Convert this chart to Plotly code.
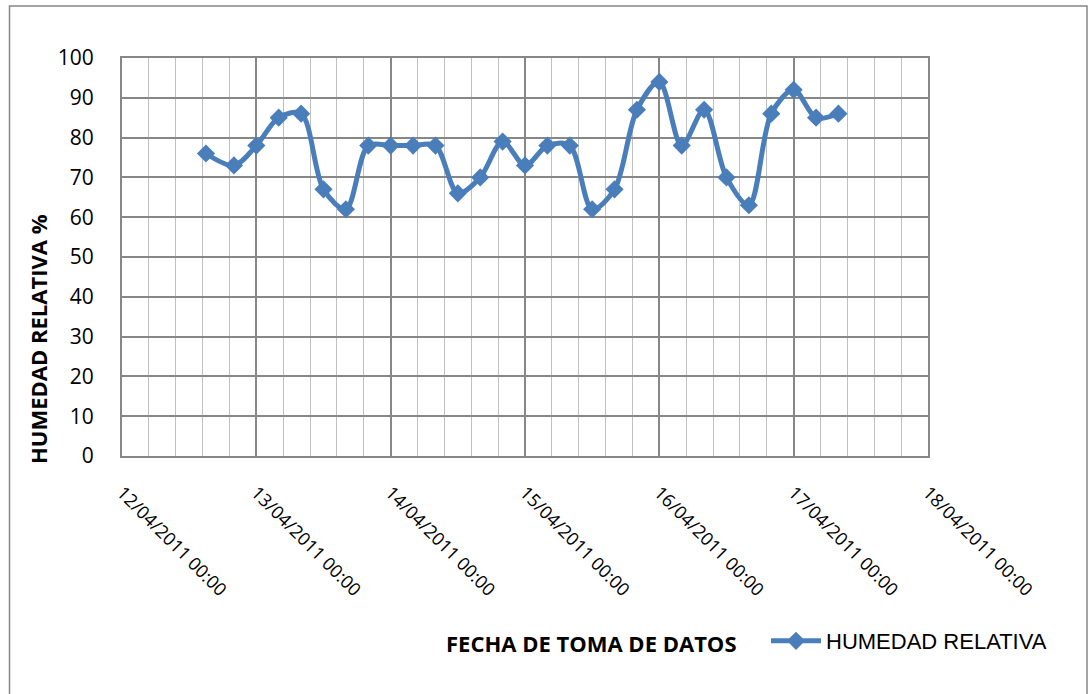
import plotly.graph_objects as go

# Data
fechas = [
    "2011-04-12 15:00", "2011-04-12 20:00",
    "2011-04-13 00:00", "2011-04-13 04:00", "2011-04-13 08:00", "2011-04-13 12:00", "2011-04-13 16:00", "2011-04-13 20:00",
    "2011-04-14 00:00", "2011-04-14 04:00", "2011-04-14 08:00", "2011-04-14 12:00", "2011-04-14 16:00", "2011-04-14 20:00",
    "2011-04-15 00:00", "2011-04-15 04:00", "2011-04-15 08:00", "2011-04-15 12:00", "2011-04-15 16:00", "2011-04-15 20:00",
    "2011-04-16 00:00", "2011-04-16 04:00", "2011-04-16 08:00", "2011-04-16 12:00", "2011-04-16 16:00", "2011-04-16 20:00",
    "2011-04-17 00:00", "2011-04-17 04:00", "2011-04-17 08:00",
]
humedad = [
    76, 73,
    78, 85, 86, 67, 62, 78,
    78, 78, 78, 66, 70, 79,
    73, 78, 78, 62, 67, 87,
    94, 78, 87, 70, 63, 86,
    92, 85, 86,
]
serie_nombre = "HUMEDAD RELATIVA"
titulo_x = "FECHA DE TOMA DE DATOS"
titulo_y = "HUMEDAD RELATIVA %"
rango_x = ["2011-04-12 00:00", "2011-04-18 00:00"]

W, H = 1091, 694
L, R, T, B = 122, 928, 58, 456
pw, ph = R - L, B - T

def px(x):
    return (x - L) / pw

def py(y):
    return (B - y) / ph

azul = "#4A7EBB"
gris = "#878787"
gris_claro = "#C0C0C0"

fig = go.Figure()
fig.add_trace(go.Scatter(
    x=fechas, y=humedad, name=serie_nombre, mode="lines+markers",
    line=dict(color=azul, width=5, shape="spline", smoothing=0.9),
    marker=dict(symbol="diamond", size=14, color=azul),
))

fig.update_layout(
    width=W, height=H,
    margin=dict(l=L, r=W - R, t=T, b=H - B),
    paper_bgcolor="white", plot_bgcolor="white",
    font=dict(family="Open Sans", color="#000000"),
    showlegend=True,
    legend=dict(
        x=px(766), y=py(641), xanchor="left", yanchor="middle",
        orientation="h", bgcolor="rgba(0,0,0,0)",
        font=dict(family="Liberation Sans", size=22, color="#000000"),
        itemwidth=50,
    ),
    xaxis=dict(
        type="date", range=rango_x,
        tick0="2011-04-12", dtick=86400000,
        tickformat="%d/%m/%Y %H:%M", tickangle=45,
        tickfont=dict(family="Open Sans", size=18),
        ticks="", ticklabelstandoff=17,
        showgrid=True, gridcolor=gris, gridwidth=1.5,
        minor=dict(tick0="2011-04-12", dtick=17280000, showgrid=True,
                   gridcolor=gris_claro, gridwidth=1.2),
        showline=True, linecolor=gris, linewidth=2, mirror=True,
        zeroline=False,
    ),
    yaxis=dict(
        range=[0, 100], tick0=0, dtick=10,
        tickfont=dict(family="Open Sans", size=21),
        ticks="", ticklabelstandoff=22,
        showgrid=True, gridcolor=gris, gridwidth=1.5,
        showline=True, linecolor=gris, linewidth=2, mirror=True,
        zeroline=False,
    ),
    annotations=[
        dict(text="<b>" + titulo_x + "</b>", x=px(591), y=py(643), xref="paper", yref="paper",
             showarrow=False, xanchor="center", yanchor="middle",
             font=dict(family="Open Sans", size=22, color="#000000")),
        dict(text="<b>" + titulo_y + "</b>", x=px(38), y=py(339), xref="paper", yref="paper",
             showarrow=False, xanchor="center", yanchor="middle", textangle=-90,
             font=dict(family="Open Sans", size=22, color="#000000")),
    ],
    shapes=[
        dict(type="rect", xref="paper", yref="paper",
             x0=px(9.5), x1=px(1087), y0=py(720), y1=py(6),
             line=dict(color=gris, width=1.5), layer="below"),
    ],
)

fig.write_html("out.html", config={"displayModeBar": False},
               post_script="document.body.style.margin='0';")
